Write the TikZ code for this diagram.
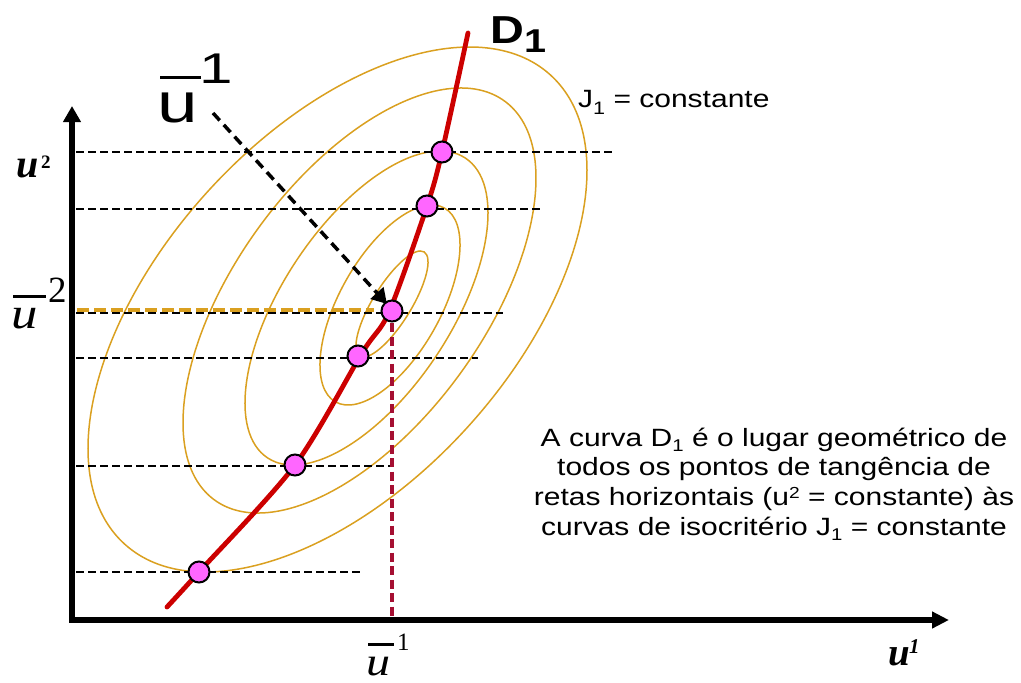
\documentclass[tikz,border=0pt]{standalone}
\usepackage{graphicx}
\usepackage{fontspec}
\setmainfont{Liberation Sans}
\newfontfamily\serif{Liberation Serif}
\usetikzlibrary{arrows.meta}
\definecolor{gold}{RGB}{218,160,32}
\definecolor{dred}{RGB}{204,0,0}
\definecolor{maroonc}{RGB}{165,15,50}
\definecolor{pinkdot}{RGB}{255,102,255}
\newcommand{\lowsub}[2]{\raisebox{-#1pt}{\fontsize{#2}{#2}\selectfont 1}}
\begin{document}
\begin{tikzpicture}[x=1pt,y=-1pt,
  iso/.style={draw=gold, line width=1.5pt},
  hdash/.style={draw=black, line width=2pt, dash pattern=on 8pt off 4pt},
  ptdot/.style={circle, draw=black, line width=2pt, fill=pinkdot, minimum size=21pt, inner sep=0pt},
  axisline/.style={line width=5.5pt, line join=miter, {Triangle[length=16pt,width=17pt]}-{Triangle[length=17pt,width=16pt]}},
  lbl/.style={inner sep=0pt, anchor=base west},
  bar/.style={line width=2.6pt},
]
\useasboundingbox (0,0) rectangle (1021,683);

% iso-criterion curves
\draw[iso, rotate around={47.74:(337.5,309.5)}] (337.5,309.5) ellipse [x radius=316.8pt, y radius=175.4pt];
\draw[iso, rotate around={53.99:(359.5,300.5)}] (359.5,300.5) ellipse [x radius=246.6pt, y radius=124.4pt];
\draw[iso, rotate around={56.6:(366.5,308)}] (366.5,308) ellipse [x radius=179.6pt, y radius=84.6pt];
\draw[iso, rotate around={60.63:(390,305)}] (390,305) ellipse [x radius=111.2pt, y radius=50.4pt];
\draw[iso, rotate around={58.3:(392,304)}] (392,304) ellipse [x radius=61.2pt, y radius=19.1pt];

% points
\coordinate (p1) at (442,152);
\coordinate (p2) at (427,206);
\coordinate (p3) at (392,311);
\coordinate (p4) at (358,356);
\coordinate (p5) at (295,465);
\coordinate (p6) at (199,572);

% axes
\coordinate (O) at (72,620);
\coordinate (ytip) at (72,106);
\coordinate (xtip) at (949,620);
\draw[axisline] (ytip) -- (O) -- (xtip);

% horizontal dashed lines
\coordinate (h1s) at (76,152); \coordinate (h1e) at (612,152);
\coordinate (h2s) at (76,209); \coordinate (h2e) at (540,209);
\coordinate (h3s) at (76,313); \coordinate (h3e) at (503,313);
\coordinate (h4s) at (76,358); \coordinate (h4e) at (478,358);
\coordinate (h5s) at (76,466); \coordinate (h5e) at (392,466);
\coordinate (h6s) at (76,572); \coordinate (h6e) at (362,572);
\draw[hdash] (h1s) -- (h1e);
\draw[hdash] (h2s) -- (h2e);
\draw[hdash] (h3s) -- (h3e);
\draw[hdash] (h4s) -- (h4e);
\draw[hdash] (h5s) -- (h5e);
\draw[hdash] (h6s) -- (h6e);

% gold dashed line to u2 bar
\coordinate (g1) at (77,310); \coordinate (g2) at (374,310);
\draw[gold, line width=4pt, dash pattern=on 12pt off 5pt] (g1) -- (g2);

% maroon vertical dashed
\coordinate (m2) at (p3 |- O);
\draw[maroonc, line width=3.5pt, dash pattern=on 9pt off 4.5pt] ([yshift=-12pt]p3) -- (m2);

% D1 curve
\draw[dred, line width=4.8pt, line cap=round] plot[smooth, tension=0.5] coordinates {(167,607) (p6) (p5) (362,353) (389,312) (p2) (p1) (468,33)};

% dashed arrow
\coordinate (as) at (213,113);
\coordinate (ae) at (387,304);
\draw[line width=3.5pt, dash pattern=on 10pt off 6pt, -{Triangle[length=15pt,width=17pt]}] (as) -- (ae);

% dots
\node[ptdot] (d1) at (p1) {};
\node[ptdot] (d2) at (p2) {};
\node[ptdot] (d3) at (p3) {};
\node[ptdot] (d4) at (p4) {};
\node[ptdot] (d5) at (p5) {};
\node[ptdot] (d6) at (p6) {};

% labels
\node[lbl] (D1) at (490,43) {\fontsize{39}{39}\selectfont\bfseries\scalebox{1.2}[1]{D\raisebox{-9pt}{\fontsize{33}{33}\selectfont 1}}};
\node[lbl] (J) at (578,107) {\fontsize{25}{25}\selectfont\scalebox{1.2}[1]{J\lowsub{7}{18} = constante}};

\node[lbl] (ub1) at (157,122) {\fontsize{56}{56}\selectfont\scalebox{1.3}[1]{u}};
\draw[bar, line width=3pt] ([yshift=15pt,xshift=3pt]ub1.north west) -- ([yshift=15pt,xshift=3pt]ub1.north east);
\node[lbl] (ub1s) at (199,83) {\fontsize{43}{43}\selectfont\scalebox{1.4}[1]{1}};

\node[lbl] (ub2) at (11,328) {\fontsize{44}{44}\selectfont\scalebox{1.2}[1]{\serif\itshape u}};
\draw[bar] ([yshift=11pt,xshift=2pt]ub2.north west) -- ([yshift=11pt,xshift=8pt]ub2.north east);
\node[lbl] (ub2s) at (48,302) {\fontsize{37}{37}\selectfont\serif 2};

\node[lbl] (u2) at (16,177) {\fontsize{40}{40}\selectfont\serif\bfseries\itshape u};
\node[lbl] (u2s) at (41,168) {\fontsize{19}{19}\selectfont\serif\bfseries 2};

\node[lbl] (u1) at (888,665) {\fontsize{39}{39}\selectfont\serif\bfseries\itshape u};
\node[lbl] (u1s) at (909,653) {\fontsize{21}{21}\selectfont\serif\bfseries\itshape 1};

\node[lbl] (ubb) at (366,675) {\fontsize{40}{40}\selectfont\scalebox{1.2}[1]{\serif\itshape u}};
\draw[bar] ([yshift=12pt,xshift=2pt]ubb.north west) -- ([yshift=12pt,xshift=4pt]ubb.north east);
\node[lbl] (ubbs) at (397,650) {\fontsize{25}{25}\selectfont\serif 1};

\node[align=center, inner sep=0pt, font=\fontsize{25}{29.7}\selectfont] (txt) at (774,484) {%
\scalebox{1.2}[1]{A curva D\lowsub{5}{17} é o lugar geométrico de}\\
\scalebox{1.2}[1]{todos os pontos de tangência de}\\
\scalebox{1.2}[1]{retas horizontais (u\raisebox{7pt}{\fontsize{16}{16}\selectfont 2} = constante) às}\\
\scalebox{1.2}[1]{curvas de isocritério J\lowsub{5}{17} = constante}};
\end{tikzpicture}
\end{document}
